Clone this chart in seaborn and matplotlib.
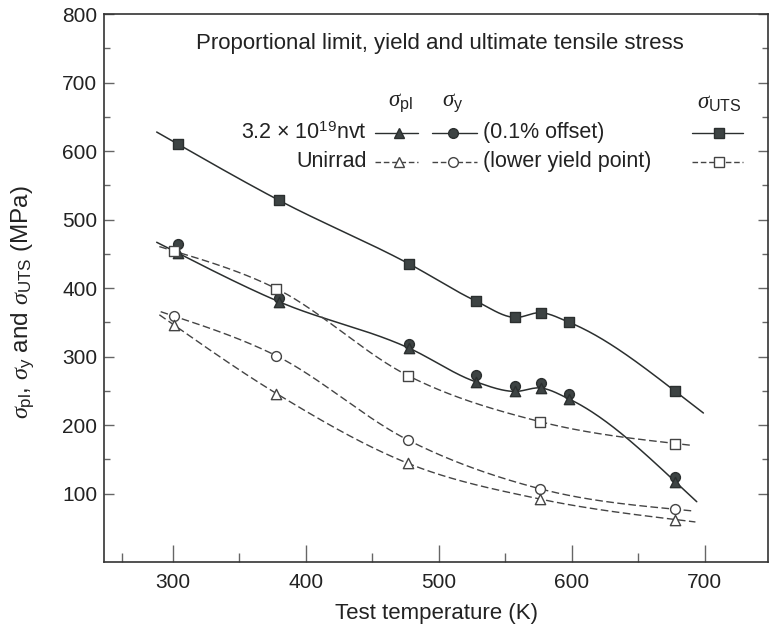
import numpy as np
import pandas as pd
import seaborn as sns
import matplotlib
matplotlib.use('Agg')
import matplotlib.pyplot as plt
from matplotlib.lines import Line2D

sns.set_theme(style='ticks')
plt.rcParams['font.family'] = ['Liberation Sans', 'DejaVu Sans']
plt.rcParams['mathtext.fontset'] = 'custom'
plt.rcParams['mathtext.rm'] = 'Liberation Sans'
plt.rcParams['mathtext.it'] = 'Liberation Serif:italic'
plt.rcParams['mathtext.bf'] = 'Liberation Sans:bold'

# values: test temperature (K) vs stress (MPa)
t_irr = [304, 380, 478, 528, 557, 577, 598, 678]
uts_irr = [610, 528, 435, 381, 357, 364, 350, 249]
sy_irr = [464, 386, 319, 273, 257, 262, 246, 124]
spl_irr = [451, 380, 312, 263, 249, 254, 238, 117]

t_unirr = [301, 378, 477, 576, 678]
uts_unirr = [454, 399, 272, 205, 173]
sy_unirr = [359, 301, 178, 107, 77]
spl_unirr = [346, 246, 144, 92, 62]

x_ticks = [300, 400, 500, 600, 700]
x_minor = [262, 350, 450, 550, 650]
y_ticks = [100, 200, 300, 400, 500, 600, 700, 800]
y_minor = [150, 250, 350, 450, 550, 650, 750]

DARK = '#2b2f2f'
FILL = '#3d4343'
GREY = '#444444'
TXT = '#222222'


def smooth(x, y, lo, hi, n=300):
    # cubic hermite through the read points, short straight tails at the ends
    x = np.asarray(x, float)
    y = np.asarray(y, float)
    h = np.diff(x)
    d = np.diff(y) / h
    m = np.empty_like(x)
    m[1:-1] = (h[1:] * d[:-1] + h[:-1] * d[1:]) / (h[:-1] + h[1:])
    m[0] = (3 * d[0] - m[1]) / 2
    m[-1] = (3 * d[-1] - m[-2]) / 2
    xs = np.linspace(lo, hi, n)
    ys = np.empty_like(xs)
    for k, xv in enumerate(xs):
        if xv <= x[0]:
            ys[k] = y[0] + m[0] * (xv - x[0])
        elif xv >= x[-1]:
            ys[k] = y[-1] + m[-1] * (xv - x[-1])
        else:
            i = np.searchsorted(x, xv) - 1
            t = (xv - x[i]) / h[i]
            h00 = 2 * t**3 - 3 * t**2 + 1
            h10 = t**3 - 2 * t**2 + t
            h01 = -2 * t**3 + 3 * t**2
            h11 = t**3 - t**2
            ys[k] = h00 * y[i] + h10 * h[i] * m[i] + h01 * y[i + 1] + h11 * h[i] * m[i + 1]
    return xs, ys


fig = plt.figure(figsize=(7.69, 6.26), dpi=100)
ax = fig.add_axes([0.1356, 0.1022, 0.863, 0.8754])
ax.set_facecolor('white')

series = [
    # x, y, curve span (None = markers only), marker, size, filled, dashed
    (t_irr, uts_irr, (288, 699), 's', 52, True, False),
    (t_irr, sy_irr, None, 'o', 50, True, False),
    (t_irr, spl_irr, (288, 694), '^', 55, True, False),
    (t_unirr, uts_unirr, (290, 691), 's', 52, False, True),
    (t_unirr, sy_unirr, (291, 691), 'o', 50, False, True),
    (t_unirr, spl_unirr, (290, 693), '^', 55, False, True),
]

for x, y, span, mk, s, filled, dashed in series:
    if span is None:
        continue
    xs, ys = smooth(x, y, *span)
    if dashed:
        ax.plot(xs, ys, color=GREY, lw=1.0, dashes=(5.5, 2.5), zorder=2)
    else:
        ax.plot(xs, ys, color=DARK, lw=1.1, zorder=2)

# markers: filled (irradiated) first, open (unirradiated) on top
for x, y, _, mk, s, filled, dashed in series:
    df = pd.DataFrame({'T': x, 'stress': y})
    sns.scatterplot(data=df, x='T', y='stress', ax=ax, marker=mk, s=s,
                    color=FILL if filled else 'white',
                    edgecolor=DARK if filled else GREY, linewidth=1.0,
                    zorder=4 if filled else 5, legend=False)

ax.set_xlim(248.6, 747.5)
ax.set_ylim(0, 800)
ax.set_xticks(x_ticks)
ax.set_xticks(x_minor, minor=True)
ax.set_yticks(y_ticks)
ax.set_yticks(y_minor, minor=True)
ax.tick_params(axis='x', which='major', direction='in', length=12, width=1,
               color='#666666', pad=8, labelsize=15, labelcolor=TXT)
ax.tick_params(axis='x', which='minor', direction='in', length=6.5, width=1,
               color='#666666')
ax.tick_params(axis='y', which='major', direction='in', length=7, width=1,
               color='#666666', pad=5, labelsize=15, labelcolor=TXT, right=True)
ax.tick_params(axis='y', which='minor', direction='in', length=4, width=1,
               color='#666666', right=True)
for sp in ax.spines.values():
    sp.set_color('#333333')
    sp.set_linewidth(1.2)

ax.set_xlabel('Test temperature (K)', fontsize=16, color=TXT, labelpad=8)
ax.set_ylabel(r'$\sigma_{\rm pl}$, $\sigma_{\rm y}$ and $\sigma_{\rm UTS}$ (MPa)',
              fontsize=17.5, color=TXT, labelpad=19)
ax.yaxis.label.set_y(0.475)

# title and hand-made legend table inside the axes
tr = ax.transAxes
ax.text(0.505, 0.947, 'Proportional limit, yield and ultimate tensile stress',
        transform=tr, ha='center', va='center', fontsize=16, color=TXT)

ax.text(0.4455, 0.838, r'$\sigma_{\rm pl}$', transform=tr, ha='center', va='center', fontsize=16.5, color=TXT)
ax.text(0.5254, 0.838, r'$\sigma_{\rm y}$', transform=tr, ha='center', va='center', fontsize=16.5, color=TXT)
ax.text(0.927, 0.838, r'$\sigma_{\rm UTS}$', transform=tr, ha='center', va='center', fontsize=16.5, color=TXT)

rows = [
    (0.783, '3.2$\\,\\times\\,$10$^{19}$nvt', '(0.1% offset)', True),
    (0.730, 'Unirrad', '(lower yield point)', False),
]
keys = [((0.408, 0.472), 0.4437, '^', 7.4), ((0.494, 0.5615), 0.5254, 'o', 7.0),
        ((0.8855, 0.962), 0.926, 's', 7.2)]
for yy, lab, note, filled in rows:
    ax.text(0.396, yy, lab, transform=tr, ha='right', va='center', fontsize=15.5, color=TXT)
    ax.text(0.5705, yy, note, transform=tr, ha='left', va='center', fontsize=15.5, color=TXT)
    for (x0, x1), xm, mk, ms in keys:
        ln = Line2D([x0, x1], [yy, yy], transform=tr, color=DARK if filled else GREY,
                    lw=1.0, zorder=6)
        if not filled:
            ln.set_dashes((4, 2))
        ax.add_line(ln)
        ax.add_line(Line2D([xm], [yy], transform=tr, marker=mk, markersize=ms, ls='none',
                           markerfacecolor=FILL if filled else 'white',
                           markeredgecolor=DARK if filled else GREY, markeredgewidth=1.0,
                           zorder=7))

fig.savefig('out.png', dpi=100, facecolor='white')
